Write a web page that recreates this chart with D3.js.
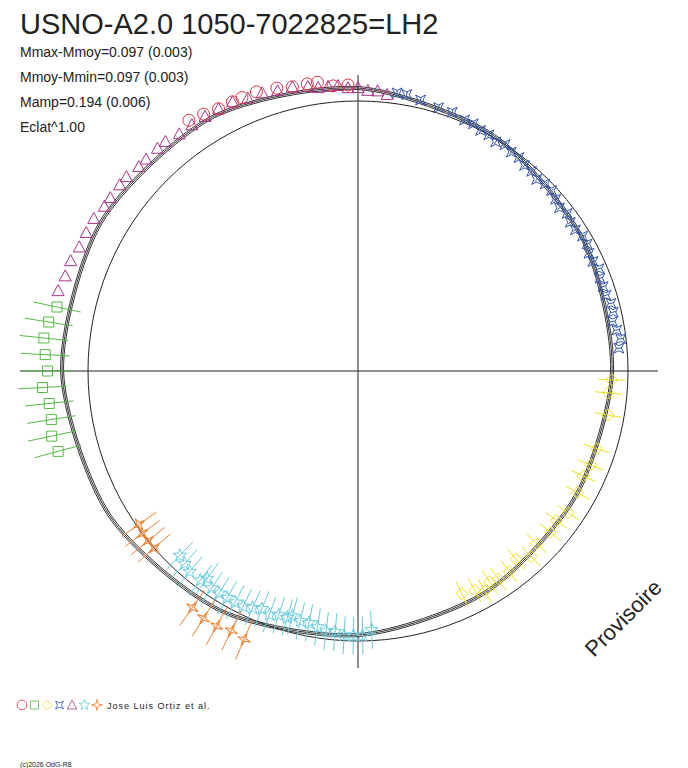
<!DOCTYPE html>
<html><head><meta charset="utf-8">
<script src="https://cdn.jsdelivr.net/npm/d3@7"></script>
<style>body{margin:0;background:#fff}text{font-family:"Liberation Sans",Arial,sans-serif}</style>
</head><body><svg width="688" height="768"></svg>
<script>
// fitted curve, angle (deg clockwise from top) -> radius relative to mean circle
const curveAngles = [0, 30, 60, 90, 120, 150, 180, 210, 240, 270, 300, 330];
const curveRadii = [1.048, 1.006, 0.965, 0.941, 0.930, 0.946, 0.978, 1.023, 1.065, 1.096, 1.100, 1.084];

// observation series: angle, radius, error
const redAng = [326, 329, 332, 335, 337, 340, 344, 347, 350, 352, 355, 358];
const redRad = [1.12, 1.11, 1.10, 1.10, 1.10, 1.10, 1.09, 1.08, 1.08, 1.08, 1.06, 1.06];
const greenAng = [282, 279, 276, 273, 270, 267, 264, 261, 258, 255];
const greenRad = [1.14, 1.16, 1.17, 1.16, 1.15, 1.17, 1.15, 1.15, 1.16, 1.15];
const yellowAng = [92, 95, 100, 108, 112, 115, 119, 124, 127, 130, 134, 137, 140, 143, 146, 148, 150, 152, 155];
const yellowRad = [0.94, 0.93, 0.94, 0.93, 0.93, 0.92, 0.93, 0.94, 0.92, 0.93, 0.92, 0.94, 0.91, 0.93, 0.93, 0.92, 0.94, 0.92, 0.91];
const blueAng = [8, 10, 13, 17, 20, 23, 25, 27, 29, 31, 33, 35, 37, 39, 41, 43, 45, 47, 49, 51, 53, 55, 57, 59, 61, 63, 65, 67, 69, 71, 73, 75, 77, 79, 81, 83, 85];
const blueRad = [1.04, 1.04, 1.03, 1.02, 1.02, 1.01, 1.01, 1.00, 1.00, 0.99, 1.00, 0.99, 0.99, 0.98, 0.98, 0.97, 0.98, 0.98, 0.97, 0.96, 0.97, 0.96, 0.96, 0.97, 0.97, 0.96, 0.96, 0.97, 0.96, 0.96, 0.96, 0.97, 0.97, 0.96, 0.97, 0.98, 0.97];
const magentaAng = [285, 288, 291, 294, 297, 300, 303, 305, 308, 310, 313, 315, 318, 320, 323, 326, 329, 332, 335, 338, 341, 344, 347, 350, 352, 354, 356, 358, 0, 2, 4, 6];
const magentaRad = [1.15, 1.14, 1.14, 1.13, 1.13, 1.13, 1.12, 1.12, 1.12, 1.12, 1.11, 1.11, 1.11, 1.11, 1.10, 1.10, 1.10, 1.10, 1.10, 1.09, 1.09, 1.08, 1.08, 1.07, 1.06, 1.06, 1.06, 1.05, 1.05, 1.04, 1.04, 1.03];
const cyanAng = [224, 222, 220, 217, 216, 214, 212, 210, 208, 206, 204, 202, 200, 198, 196, 195, 193, 191, 189, 187, 185, 183, 181, 179, 177];
const cyanRad = [0.95, 0.96, 0.97, 0.97, 0.95, 0.97, 0.97, 0.97, 0.97, 0.97, 0.96, 0.95, 0.96, 0.95, 0.95, 0.94, 0.95, 0.95, 0.96, 0.97, 0.97, 0.98, 0.98, 0.98, 0.96];
const orangeAng = [235, 233, 231, 229, 215, 212, 209, 206, 203];
const orangeRad = [0.99, 1.00, 1.00, 1.00, 1.07, 1.08, 1.08, 1.07, 1.08];

const legendText = "Jose Luis Ortiz et al.";

const svg = d3.select('svg');
const cx = 358, cy = 371;
const rScale = d3.scaleLinear().domain([0, 1]).range([0, 270]);
const toXY = (a, r) => {
    const t = a * Math.PI / 180;
    return [cx + rScale(r) * Math.sin(t), cy - rScale(r) * Math.cos(t)];
};

// axes
svg.append('line').attr('x1', 20).attr('x2', 658).attr('y1', cy).attr('y2', cy).attr('stroke', '#222');
svg.append('line').attr('x1', cx).attr('x2', cx).attr('y1', 75).attr('y2', 668).attr('stroke', '#222');
svg.append('circle').attr('cx', cx).attr('cy', cy).attr('r', rScale(1)).attr('fill', 'none').attr('stroke', '#222');

// fitted curve, drawn a few times to look thick
const line = d3.line().curve(d3.curveCardinalClosed.tension(0.2));
const pts = curveAngles.map((a, i) => toXY(a, curveRadii[i]));
[-1.5, 0, 1.5].forEach(off => {
    svg.append('path').attr('d', line(curveAngles.map((a, i) => toXY(a, curveRadii[i] + off / 270))))
        .attr('fill', 'none').attr('stroke', '#333').attr('stroke-width', 1);
});

function star(n, outer, inner, rot) {
    const p = [];
    for (let i = 0; i < n * 2; i++) {
        const rr = i % 2 ? inner : outer;
        const t = rot + i * Math.PI / n;
        p.push([rr * Math.sin(t), -rr * Math.cos(t)]);
    }
    return 'M' + p.join('L') + 'Z';
}
const shapes = {
    circle: 'M6,0A6,6 0 1,1 -6,0A6,6 0 1,1 6,0',
    square: 'M-5,-5H5V5H-5Z',
    diamond: 'M0,-6L6,0L0,6L-6,0Z',
    blue: star(4, 7, 2.5, Math.PI / 4),
    triangle: 'M0,-6L6,5H-6Z',
    cyan: star(5, 7, 3, 0),
    orange: star(4, 7, 2, 0)
};

function series(ang, rad, shape, color, err, rot) {
    const g = svg.append('g');
    ang.forEach((a, i) => {
        const [x, y] = toXY(a, rad[i]);
        if (err) {
            const [x1, y1] = toXY(a, rad[i] - err);
            const [x2, y2] = toXY(a, rad[i] + err);
            g.append('line').attr('x1', x1).attr('y1', y1).attr('x2', x2).attr('y2', y2)
                .attr('stroke', color).attr('stroke-width', 1);
        }
        g.append('path').attr('d', shapes[shape])
            .attr('transform', `translate(${x},${y})` + (rot ? ` rotate(${a})` : ''))
            .attr('fill', 'none').attr('stroke', color).attr('stroke-width', 1);
    });
}
series(greenAng, greenRad, 'square', '#55bb44', 0.09, false);
series(yellowAng, yellowRad, 'diamond', '#f0e020', 0.05, false);
series(cyanAng, cyanRad, 'cyan', '#66ccdd', 0.07, false);
series(orangeAng, orangeRad, 'orange', '#f08030', 0.08, true);
series(blueAng, blueRad, 'blue', '#3355aa', 0.01, false);
series(magentaAng, magentaRad, 'triangle', '#aa3388', 0, false);
series(redAng, redRad, 'circle', '#dd3344', 0, false);

// texts
svg.append('text').attr('x', 20).attr('y', 34).attr('font-size', 29).attr('fill', '#222').text('USNO-A2.0 1050-7022825=LH2');
['Mmax-Mmoy=0.097 (0.003)', 'Mmoy-Mmin=0.097 (0.003)', 'Mamp=0.194 (0.006)', 'Eclat^1.00'].forEach((t, i) => {
    svg.append('text').attr('x', 20).attr('y', 57 + i * 25).attr('font-size', 14).attr('fill', '#222').text(t);
});
svg.append('text').attr('transform', 'translate(594,658) rotate(-45)').attr('font-size', 22).attr('fill', '#222').text('Provisoire');

// legend
const legShapes = [['circle', '#dd3344'], ['square', '#55bb44'], ['diamond', '#f0e020'], ['blue', '#3355aa'], ['triangle', '#aa3388'], ['cyan', '#66ccdd'], ['orange', '#f08030']];
legShapes.forEach((s, i) => {
    svg.append('path').attr('d', shapes[s[0]]).attr('transform', `translate(${22 + i * 12.5},705) scale(0.8)`)
        .attr('fill', 'none').attr('stroke', s[1]);
});
svg.append('text').attr('x', 107).attr('y', 709).attr('font-size', 9).attr('letter-spacing', 1).attr('fill', '#222').text(legendText);
svg.append('text').attr('x', 20).attr('y', 767).attr('font-size', 7).attr('fill', '#222').text('(c)2026 OdG-R8');
</script></body></html>
